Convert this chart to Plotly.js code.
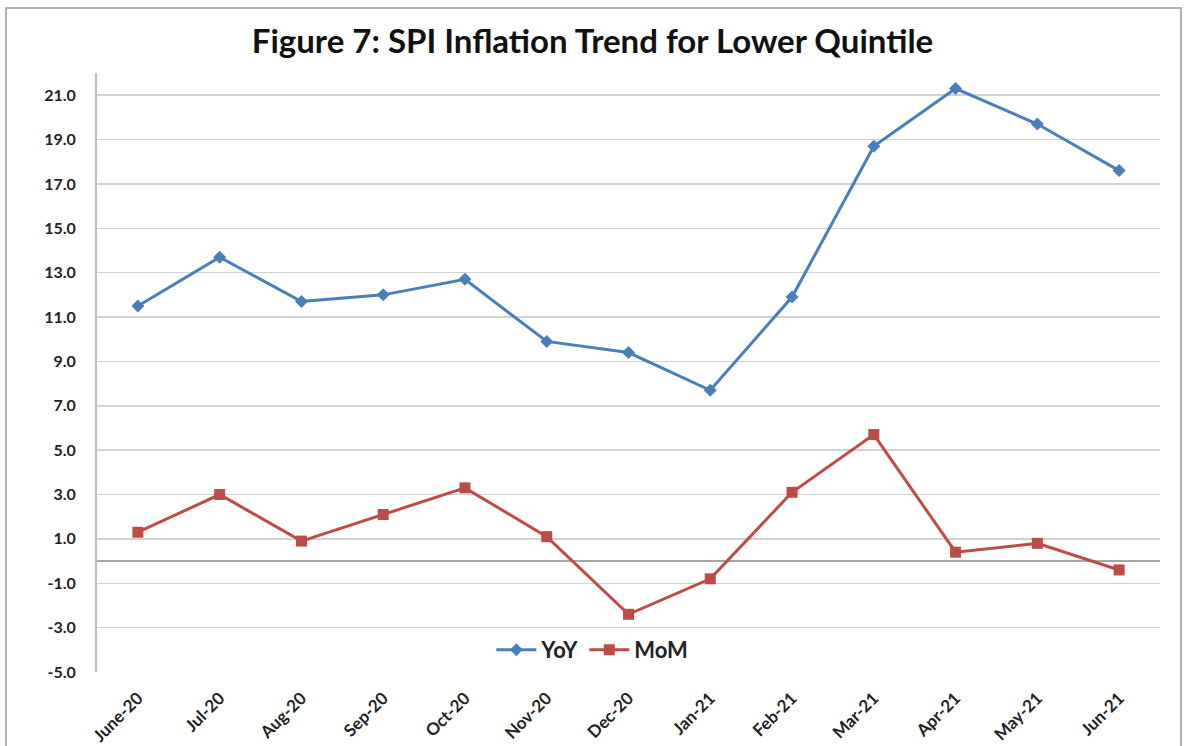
<!DOCTYPE html>
<html>
<head>
<meta charset="utf-8">
<script src="https://cdn.plot.ly/plotly-3.0.1.min.js"></script>
<style>
html,body{margin:0;padding:0;background:#fff;}
#chart{width:1185px;height:746px;}
</style>
</head>
<body>
<div id="chart"></div>
<script>
var months = ["June-20","Jul-20","Aug-20","Sep-20","Oct-20","Nov-20","Dec-20","Jan-21","Feb-21","Mar-21","Apr-21","May-21","Jun-21"];
var yoy = [11.5, 13.7, 11.7, 12.0, 12.7, 9.9, 9.4, 7.7, 11.9, 18.7, 21.3, 19.7, 17.6];
var mom = [1.3, 3.0, 0.9, 2.1, 3.3, 1.1, -2.4, -0.8, 3.1, 5.7, 0.4, 0.8, -0.4];
var yTickVals = [-5, -3, -1, 1, 3, 5, 7, 9, 11, 13, 15, 17, 19, 21];
var yTickText = ["-5.0","-3.0","-1.0","1.0","3.0","5.0","7.0","9.0","11.0","13.0","15.0","17.0","19.0","21.0"];
var titleText = "Figure 7: SPI Inflation Trend for Lower Quintile";

var traces = [
  {x: months, y: yoy, name: "YoY", type: "scatter", mode: "lines+markers",
   line: {color: "#4A7EBB", width: 3},
   marker: {symbol: "diamond", size: 10, color: "#4A7EBB"}},
  {x: months, y: mom, name: "MoM", type: "scatter", mode: "lines+markers",
   line: {color: "#BE4B48", width: 3},
   marker: {symbol: "square", size: 11, color: "#BE4B48"}}
];

var layout = {
  width: 1185, height: 746,
  paper_bgcolor: "#fff", plot_bgcolor: "#fff",
  margin: {l: 97, r: 25, t: 73, b: 74},
  font: {family: "Lato, 'Open Sans', sans-serif", color: "#222"},
  title: {text: "<b>" + titleText + "</b>", x: 0.5, xref: "container", xanchor: "center",
          y: 0.945, yref: "container", yanchor: "middle",
          font: {size: 33, family: "Lato, 'Open Sans', sans-serif", color: "#111"}},
  xaxis: {type: "category", range: [-0.5, 12.5], tickangle: -45,
          showgrid: false, showline: false, zeroline: false, ticks: "",
          ticklabelstandoff: 12,
          tickfont: {size: 17, family: "Lato, sans-serif", color: "#222", weight: "bold"}},
  yaxis: {range: [-5, 22], tickmode: "array", tickvals: yTickVals, ticktext: yTickText,
          showgrid: true, gridcolor: "#d3d3d3", gridwidth: 1.5,
          zeroline: true, zerolinecolor: "#a6a6a6", zerolinewidth: 2,
          showline: true, linecolor: "#bfbfbf", linewidth: 2, ticks: "", ticklen: 0,
          ticklabelstandoff: 16,
          tickfont: {size: 16, family: "Lato, sans-serif", color: "#222", weight: "bold"}},
  showlegend: true,
  legend: {orientation: "h", x: 0.466, y: 0.037, xanchor: "center", yanchor: "middle",
           bgcolor: "rgba(255,255,255,0)", itemgap: 48, itemwidth: 40,
           font: {size: 22, family: "Lato, sans-serif", color: "#222", weight: "bold"}},
  shapes: [
    {type: "rect", xref: "paper", yref: "paper", x0: -0.0856, x1: 1.0198, y0: -0.2, y1: 1.1085,
     line: {color: "#9a9a9a", width: 1.5}, fillcolor: "rgba(0,0,0,0)", layer: "below"}
  ]
};

Plotly.newPlot("chart", traces, layout, {displayModeBar: false, staticPlot: true});
</script>
</body>
</html>
